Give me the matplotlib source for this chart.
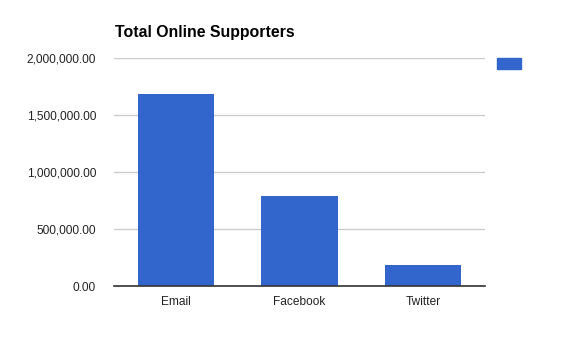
import matplotlib
matplotlib.use("Agg")
import matplotlib.pyplot as plt
from matplotlib.patches import Patch
from matplotlib.ticker import FuncFormatter

plt.rcParams['font.family'] = ['Liberation Sans', 'DejaVu Sans']

# data
channels = ['Email', 'Facebook', 'Twitter']
supporters = [1690000, 790000, 185000]
y_ticks = [0, 500000, 1000000, 1500000, 2000000]

fig = plt.figure(figsize=(5.78, 3.53), dpi=100)
ax = fig.add_axes([0.1972, 0.1898, 0.6419, 0.645])

ax.bar(range(len(channels)), supporters, width=0.615, color='#3366cc', zorder=3)

ax.set_xlim(-0.5, 2.5)
ax.set_ylim(0, 2000000)
ax.set_yticks(y_ticks)
ax.yaxis.set_major_formatter(FuncFormatter(lambda v, p: f'{v:,.2f}'))
ax.set_xticks(range(len(channels)))
ax.set_xticklabels(channels)

ax.grid(axis='y', color='#cccccc', linewidth=1, zorder=0)
for s in ['top', 'right', 'left']:
    ax.spines[s].set_visible(False)
ax.spines['bottom'].set_color('#333333')
ax.spines['bottom'].set_linewidth(1.2)
ax.spines['bottom'].set_zorder(4)
ax.tick_params(axis='both', length=0, labelsize=8.6, labelcolor='#222222')
ax.tick_params(axis='y', pad=13)
ax.tick_params(axis='x', pad=7)

fig.text(115 / 578, 1 - 37.5 / 353, 'Total Online Supporters', fontsize=11.4,
         fontweight='bold', ha='left', va='baseline', color='#000000')

# legend swatch without a label
ax.legend(handles=[Patch(color='#3366cc')], labels=[''], frameon=False,
          loc='upper left', bbox_to_anchor=(490 / 578, 1 - 50 / 353),
          bbox_transform=fig.transFigure, handlelength=1.7, handleheight=0.85,
          borderpad=0, handletextpad=0, fontsize=10)

fig.savefig('out.png', dpi=100)
